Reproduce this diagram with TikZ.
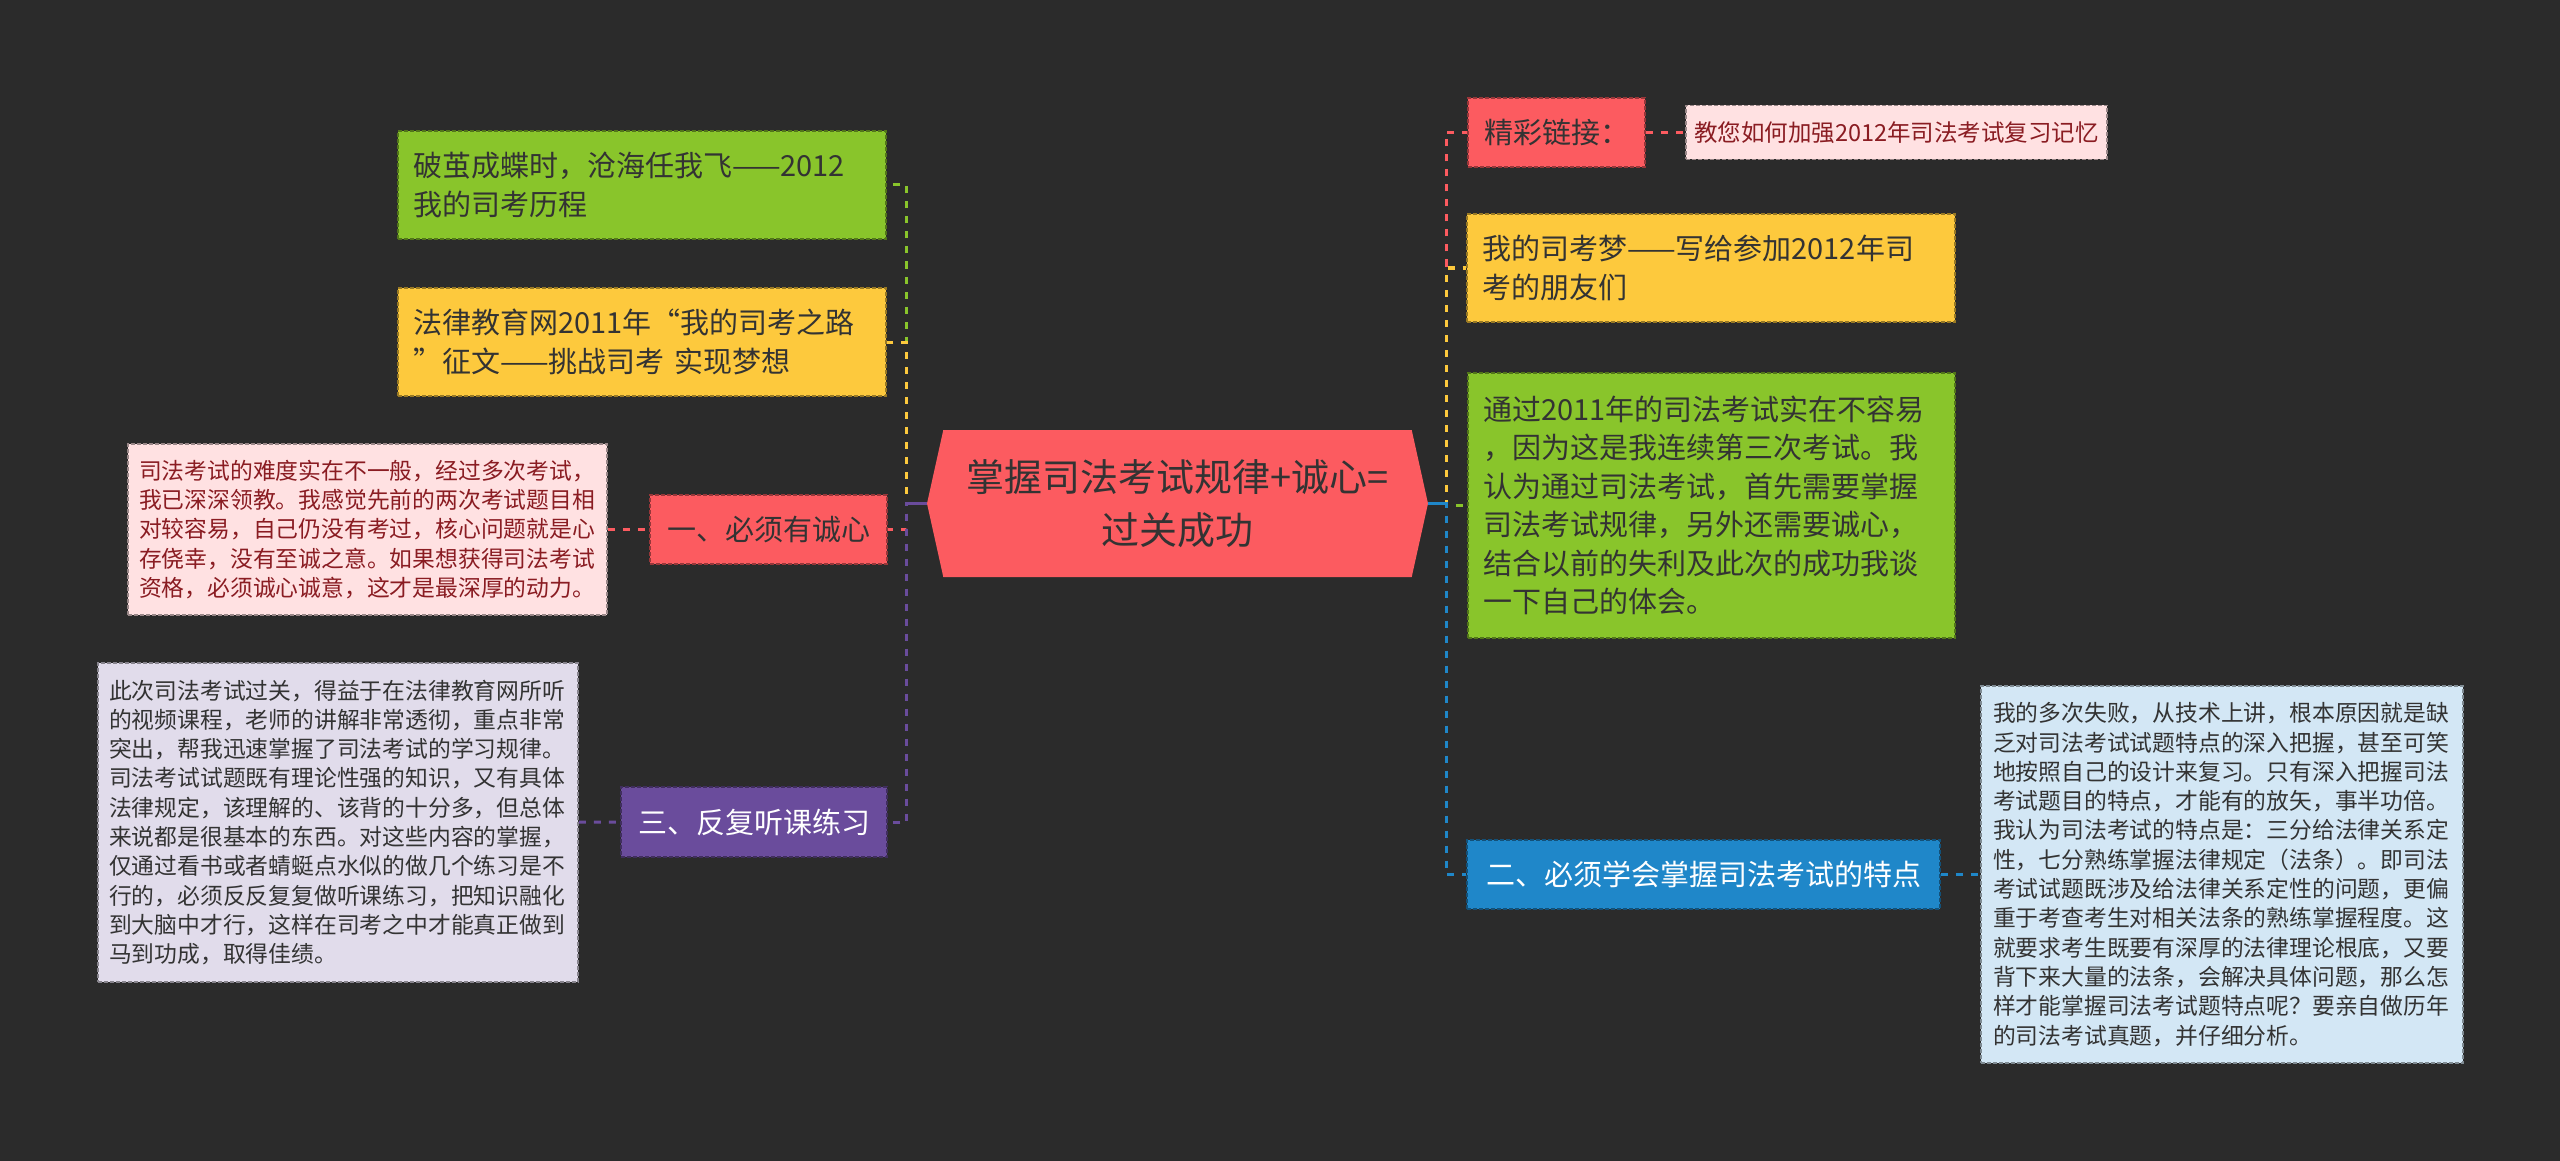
\documentclass[tikz,border=0pt]{standalone}
\usepackage{fontspec}
\setmainfont{Noto Sans CJK SC}
\usepackage{xcolor}
\usepackage{tikz}
\usetikzlibrary{positioning, shapes.symbols}
\definecolor{bggray}{HTML}{2B2B2B}
\definecolor{topicred}{HTML}{FC5B60}
\definecolor{leafgreen}{HTML}{89C52B}
\definecolor{leafyellow}{HTML}{FDC93D}
\definecolor{leafpurple}{HTML}{6A4C9C}
\definecolor{leafblue}{HTML}{1F87C9}
\definecolor{notepink}{HTML}{FFE1E2}
\definecolor{notelilac}{HTML}{E1DCEB}
\definecolor{noteblue}{HTML}{D3E7F5}
\definecolor{inkdark}{HTML}{333333}
\definecolor{inkred}{HTML}{8A1C22}

\tikzset{
  box/.style={draw=#1!60!black, fill=#1, line width=1.5pt, dash pattern=on 4pt off 2pt, inner sep=0pt},
  bigtext/.style={font=\fontsize{29}{38.5}\selectfont, text=inkdark},
  smalltext/.style={font=\fontsize{22.8}{29.3}\selectfont, text=inkdark},
  link/.style={draw=#1, line width=3pt, dash pattern=on 7pt off 8pt},
  stem/.style={draw=#1, line width=3pt},
}

\begin{document}
\begin{tikzpicture}[x=1pt, y=-1pt]
  \fill[bggray] (0,0) rectangle (2560,1161);
  \useasboundingbox (0,0) rectangle (2560,1161);

  % centre
  \node[signal, signal to=west and east, signal pointer angle=155, fill=topicred,
        minimum width=501pt, minimum height=147pt, inner sep=0pt,
        font=\fontsize{38}{53}\selectfont, text=inkdark, align=center] (root) at (1177.5,503.5)
        {掌握司法考试规律+诚心=\\过关成功};

  % left branch
  \node[box=leafgreen, bigtext, inner xsep=15pt, text width=458pt, align=left, minimum height=108pt]
       (sprout) at (642,185) {破茧成蝶时，沧海任我飞——2012\\我的司考历程};
  \node[box=leafyellow, bigtext, inner xsep=15pt, text width=458pt, align=left, minimum height=108pt]
       (dreamroad) at (642,342) {法律教育网2011年“我的司考之路\\”征文——挑战司考 实现梦想};
  \node[box=topicred, bigtext, minimum width=237pt, minimum height=69pt]
       (sincere) at (768.5,529.5) {一、必须有诚心};
  \node[box=notepink, smalltext, text=inkred, inner xsep=11pt, text width=457pt, align=left, minimum height=171pt]
       (sincerenote) at (367.5,529.5) {司法考试的难度实在不一般，经过多次考试，\\我已深深领教。我感觉先前的两次考试题目相\\对较容易，自己仍没有考过，核心问题就是心\\存侥幸，没有至诚之意。如果想获得司法考试\\资格，必须诚心诚意，这才是最深厚的动力。};
  \node[box=leafpurple, bigtext, text=white, minimum width=266pt, minimum height=70pt]
       (practice) at (754,822) {三、反复听课练习};
  \node[box=notelilac, smalltext, inner xsep=11pt, text width=458pt, align=left, minimum height=319pt]
       (practicenote) at (338,822.5) {此次司法考试过关，得益于在法律教育网所听\\的视频课程，老师的讲解非常透彻，重点非常\\突出，帮我迅速掌握了司法考试的学习规律。\\司法考试试题既有理论性强的知识，又有具体\\法律规定，该理解的、该背的十分多，但总体\\来说都是很基本的东西。对这些内容的掌握，\\仅通过看书或者蜻蜓点水似的做几个练习是不\\行的，必须反反复复做听课练习，把知识融化\\到大脑中才行，这样在司考之中才能真正做到\\马到功成，取得佳绩。};

  % right branch
  \node[box=topicred, bigtext, minimum width=177pt, minimum height=69pt]
       (linkhead) at (1556.5,132.5) {精彩链接：};
  \node[box=notepink, font=\fontsize{23.5}{29}\selectfont, text=inkred, minimum width=421pt, minimum height=54pt]
       (linkitem) at (1896.5,132.5) {教您如何加强2012年司法考试复习记忆};
  \node[box=leafyellow, bigtext, inner xsep=15pt, text width=458pt, align=left, minimum height=108pt]
       (dream) at (1711,268) {我的司考梦——写给参加2012年司\\考的朋友们};
  \node[box=leafgreen, bigtext, inner xsep=15pt, text width=457pt, align=left, minimum height=265pt]
       (passed) at (1711.5,505.5) {通过2011年的司法考试实在不容易\\，因为这是我连续第三次考试。我\\认为通过司法考试，首先需要掌握\\司法考试规律，另外还需要诚心，\\结合以前的失利及此次的成功我谈\\一下自己的体会。};
  \node[box=leafblue, bigtext, text=white, minimum width=473pt, minimum height=69pt]
       (feature) at (1703.5,874.5) {二、必须学会掌握司法考试的特点};
  \node[box=noteblue, smalltext, inner xsep=12pt, text width=458pt, align=left, minimum height=377pt]
       (featurenote) at (2222,874.5) {我的多次失败，从技术上讲，根本原因就是缺\\乏对司法考试试题特点的深入把握，甚至可笑\\地按照自己的设计来复习。只有深入把握司法\\考试题目的特点，才能有的放矢，事半功倍。\\我认为司法考试的特点是：三分给法律关系定\\性，七分熟练掌握法律规定（法条）。即司法\\考试试题既涉及给法律关系定性的问题，更偏\\重于考查考生对相关法条的熟练掌握程度。这\\就要求考生既要有深厚的法律理论根底，又要\\背下来大量的法条，会解决具体问题，那么怎\\样才能掌握司法考试题特点呢？要亲自做历年\\的司法考试真题，并仔细分析。};

  % connectors
  \foreach \child/\col in {sprout/leafgreen, dreamroad/leafyellow, sincere/topicred, practice/leafpurple}{
    \draw[link=\col] (root.west) -- ++(-20,0) |- (\child.east);
    \draw[stem=\col] (root.west) -- ++(-20,0);
  }
  \foreach \child/\col in {linkhead/topicred, dream/leafyellow, passed/leafgreen, feature/leafblue}{
    \draw[link=\col] (root.east) -- ++(18,0) |- (\child.west);
    \draw[stem=\col] (root.east) -- ++(18,0);
  }
  \draw[link=topicred] (sincerenote) -- (sincere);
  \draw[link=leafpurple] (practicenote) -- (practice);
  \draw[link=topicred] (linkhead) -- (linkitem);
  \draw[link=leafblue] (feature) -- (featurenote);
\end{tikzpicture}
\end{document}
